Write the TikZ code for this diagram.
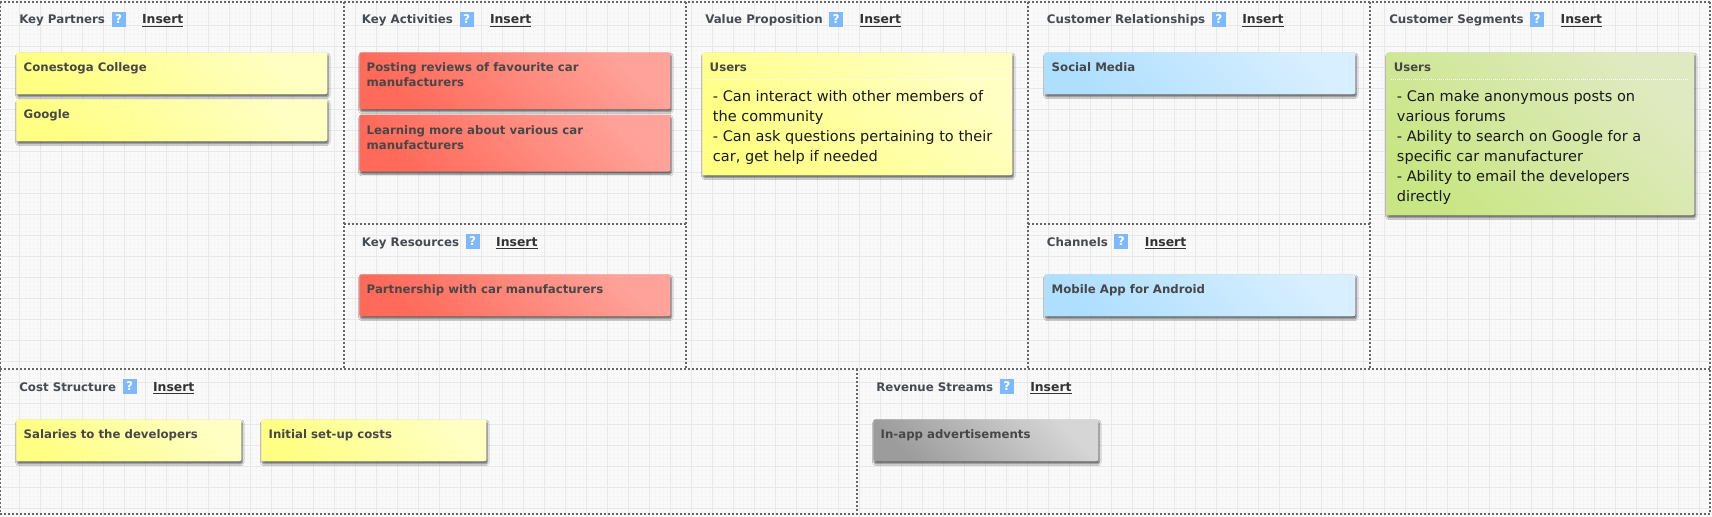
\documentclass[tikz,border=0pt]{standalone}
\usepackage{fontspec}
\setmainfont{DejaVu Sans}
\usetikzlibrary{positioning}
\usetikzlibrary{shadows.blur}

\definecolor{dotgray}{HTML}{666666}
\definecolor{gridmajor}{HTML}{E8E8E8}
\definecolor{gridminor}{HTML}{F6F6F6}
\definecolor{paper}{HTML}{FAFAFA}
\definecolor{headtext}{HTML}{454B52}
\definecolor{helpblue}{HTML}{7DB9FF}
\definecolor{yellowA}{HTML}{FFFF84}
\definecolor{yellowB}{HTML}{FFFFC4}
\definecolor{redA}{HTML}{FF6A5A}
\definecolor{redB}{HTML}{FFA39A}
\definecolor{blueA}{HTML}{AFDFFF}
\definecolor{blueB}{HTML}{D8EFFF}
\definecolor{greenA}{HTML}{C9E684}
\definecolor{greenB}{HTML}{E0EAC2}
\definecolor{grayA}{HTML}{9C9C9C}
\definecolor{grayB}{HTML}{D6D6D6}

\tikzset{
    dotline/.style={dotgray, line width=1.5pt, dash pattern=on 1.5pt off 1.5pt},
    headlabel/.style={inner sep=0pt, text height=9pt, text depth=2.2pt, font=\fontsize{8.85}{10}\selectfont\bfseries},
    helpbox/.style={fill=helpblue, text=white, inner sep=0pt, minimum width=10.5pt, minimum height=11.25pt, font=\fontsize{9}{10}\selectfont\bfseries},
    stickynote/.style n args={2}{anchor=north west, inner sep=0pt, rounded corners=1.5pt,
        top color=#1, bottom color=#2, shading angle=135,
        blur shadow={shadow xshift=0.8pt, shadow yshift=-1.9pt, shadow blur radius=1.4pt, shadow blur steps=6, shadow opacity=60}},
    notetitle/.style={anchor=north west, inner sep=0pt, align=left, text=black!72, font=\fontsize{8.8}{11.25}\selectfont\bfseries},
    notebody/.style={anchor=north west, inner sep=0pt, align=left, text=black!90, font=\fontsize{10.9}{15}\selectfont},
}

\begin{document}
\begin{tikzpicture}[x=0.75pt, y=-0.75pt]
    \useasboundingbox (0,0) rectangle (1712,517);
    \clip (0,0) rectangle (1712,517);
    \fill [paper] (0,0) rectangle (1712,517);
    % paper grid
    \foreach \gx in {0,4.2,...,1712} \draw [gridminor, line width=0.5pt] (\gx,0)--(\gx,517);
    \foreach \gy in {0.3,4.5,...,517} \draw [gridminor, line width=0.5pt] (0,\gy)--(1712,\gy);
    \foreach \gx in {19.5,40.5,...,1712} \draw [gridmajor, line width=1.1pt] (\gx,0)--(\gx,517);
    \foreach \gy in {25.5,46.5,...,517} \draw [gridmajor, line width=1.1pt] (0,\gy)--(1712,\gy);

    % frame and dividers
    \draw [dotline] (0,2)--(1712,2);
    \draw [dotline] (0,369)--(1712,369);
    \draw [dotline] (0,514)--(1712,514);
    \draw [dotline] (0.3,2)--(0.3,514);
    \draw [dotline] (1710,2)--(1710,514);
    \draw [dotline] (343.5,2)--(343.5,369);
    \draw [dotline] (686,2)--(686,369);
    \draw [dotline] (1028,2)--(1028,369);
    \draw [dotline] (1370,2)--(1370,369);
    \draw [dotline] (343.5,224)--(686,224);
    \draw [dotline] (1028,224)--(1370,224);
    \draw [dotline] (857,369)--(857,514);

    % block headers
    \foreach \hname/\hx/\hy/\htext in {partners/19/24/Key Partners, activities/361.7/24/Key Activities,
        value/705/24/Value Proposition, relations/1046.7/24/Customer Relationships, segments/1389/24/Customer Segments,
        resources/361.7/246/Key Resources, channels/1046.7/246/Channels,
        cost/19/391/Cost Structure, revenue/876/391/Revenue Streams} {
        \node [headlabel, text=headtext, anchor=base west] (head\hname) at (\hx,\hy) {\htext};
        \node [helpbox, right=4.5pt of head\hname.east] (help\hname) {?};
        \node [headlabel, text=black!80, right=12pt of help\hname.east, font=\fontsize{9.3}{10}\selectfont\bfseries] (insert\hname) {\underline{Insert}};
    }

    % sticky notes
    \node [stickynote={yellowA}{yellowB}, minimum width=233.25pt, minimum height=31.5pt] (conestoga) at (16,52) {};
    \node [notetitle, below right=8.1pt and 5.6pt of conestoga.north west] (conestogatext) {Conestoga College};
    \node [stickynote={yellowA}{yellowB}, minimum width=233.25pt, minimum height=31.5pt] (google) at (16,99) {};
    \node [notetitle, below right=8.1pt and 5.6pt of google.north west] (googletext) {Google};

    \node [stickynote={redA}{redB}, minimum width=233.25pt, minimum height=42.75pt] (posting) at (359,52) {};
    \node [notetitle, below right=8.1pt and 5.6pt of posting.north west] (postingtext) {Posting reviews of favourite car\\manufacturers};
    \node [stickynote={redA}{redB}, minimum width=233.25pt, minimum height=42.75pt] (learning) at (359,114.3) {};
    \node [notetitle, below right=8.1pt and 5.6pt of learning.north west] (learningtext) {Learning more about various car\\manufacturers};
    \node [stickynote={redA}{redB}, minimum width=233.25pt, minimum height=31.5pt] (partnership) at (359,274) {};
    \node [notetitle, below right=8.1pt and 5.6pt of partnership.north west] (partnershiptext) {Partnership with car manufacturers};

    \node [stickynote={yellowA}{yellowB}, minimum width=232.5pt, minimum height=92.25pt] (valueusers) at (702,52) {};
    \node [notetitle, below right=8.1pt and 5.6pt of valueusers.north west] (valueuserstitle) {Users};
    \draw [white, line width=0.6pt, dash pattern=on 0.75pt off 0.75pt] (707,79.5)--(1007,79.5);
    \node [notebody, below right=28.5pt and 8pt of valueusers.north west] (valueuserstext) {- Can interact with other members of\\the community\\- Can ask questions pertaining to their\\car, get help if needed};

    \node [stickynote={blueA}{blueB}, minimum width=233.25pt, minimum height=31.5pt] (social) at (1044,52) {};
    \node [notetitle, below right=8.1pt and 5.6pt of social.north west] (socialtext) {Social Media};
    \node [stickynote={blueA}{blueB}, minimum width=233.25pt, minimum height=31.5pt] (mobile) at (1044,274) {};
    \node [notetitle, below right=8.1pt and 5.6pt of mobile.north west] (mobiletext) {Mobile App for Android};

    \node [stickynote={greenA}{greenB}, minimum width=231pt, minimum height=122.25pt] (segusers) at (1386,52) {};
    \node [notetitle, below right=8.1pt and 5.6pt of segusers.north west] (segusersTitle) {Users};
    \draw [white, line width=0.6pt, dash pattern=on 0.75pt off 0.75pt] (1391,79.5)--(1689,79.5);
    \node [notebody, below right=28.5pt and 8pt of segusers.north west] (seguserstext) {- Can make anonymous posts on\\various forums\\- Ability to search on Google for a\\specific car manufacturer\\- Ability to email the developers\\directly};

    \node [stickynote={yellowA}{yellowB}, minimum width=168.75pt, minimum height=31.5pt] (salaries) at (16,419) {};
    \node [notetitle, below right=8.1pt and 5.6pt of salaries.north west] (salariestext) {Salaries to the developers};
    \node [stickynote={yellowA}{yellowB}, minimum width=168.75pt, minimum height=31.5pt] (setup) at (261,419) {};
    \node [notetitle, below right=8.1pt and 5.6pt of setup.north west] (setuptext) {Initial set-up costs};
    \node [stickynote={grayA}{grayB}, minimum width=168.75pt, minimum height=31.5pt] (inapp) at (873,419) {};
    \node [notetitle, below right=8.1pt and 5.6pt of inapp.north west] (inapptext) {In-app advertisements};
\end{tikzpicture}
\end{document}
